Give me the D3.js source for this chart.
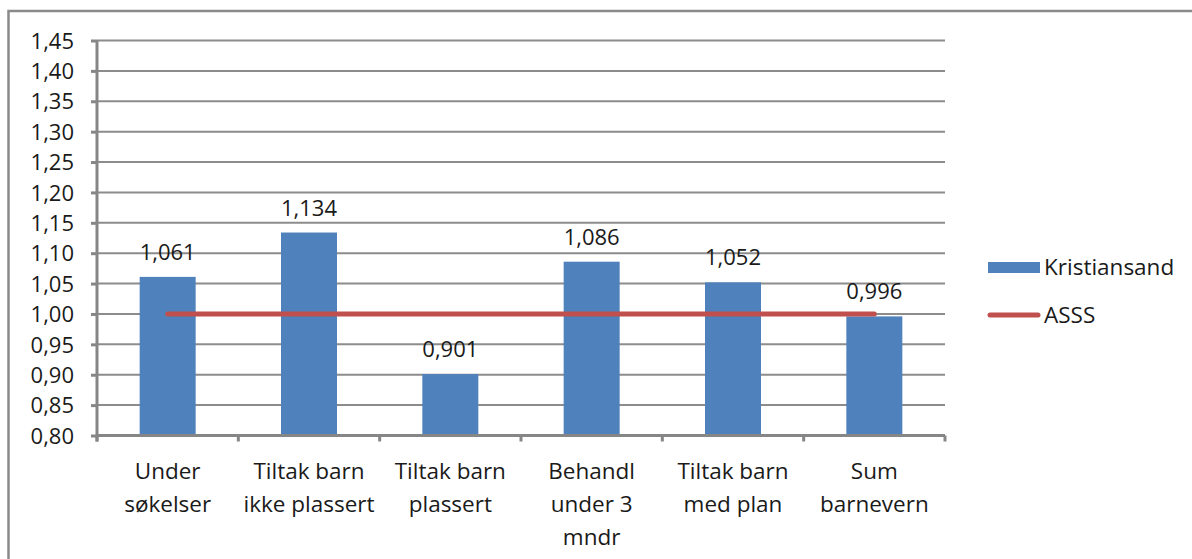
<!DOCTYPE html>
<html>
<head>
<meta charset="utf-8">
<script src="https://cdn.jsdelivr.net/npm/d3@7"></script>
<style>
  body { margin: 0; background: #fff; }
  text { font-family: "Open Sans", Lato, sans-serif; fill: #1a1a1a; }
</style>
</head>
<body>
<div id="chart"></div>
<script>
var categories = [
  ["Under", "søkelser"],
  ["Tiltak barn", "ikke plassert"],
  ["Tiltak barn", "plassert"],
  ["Behandl", "under 3", "mndr"],
  ["Tiltak barn", "med plan"],
  ["Sum", "barnevern"]
];
var kristiansand = [1.061, 1.134, 0.901, 1.086, 1.052, 0.996];
var asss = [1, 1, 1, 1, 1, 1];
var yTicks = [0.80, 0.85, 0.90, 0.95, 1.00, 1.05, 1.10, 1.15, 1.20, 1.25, 1.30, 1.35, 1.40, 1.45];
var seriesNames = ["Kristiansand", "ASSS"];

var W = 1192, H = 559;
var margin = { top: 40.5, left: 97, right: 1192 - 945, bottom: 559 - 435.5 };
var width = W - margin.left - margin.right;
var height = H - margin.top - margin.bottom;

var fmt = function (v, d) { return v.toFixed(d).replace(".", ","); };

var svg = d3.select("#chart").append("svg")
  .attr("width", W).attr("height", H);

// outer frame
svg.append("rect")
  .attr("x", 8.5).attr("y", 11)
  .attr("width", W + 10).attr("height", H + 10)
  .attr("fill", "none").attr("stroke", "#8a8a8a").attr("stroke-width", 2.5);

var g = svg.append("g")
  .attr("transform", "translate(" + margin.left + "," + margin.top + ")");

var xc = d3.scaleBand().domain(d3.range(categories.length)).range([0, width]);
var y = d3.scaleLinear().domain([0.8, 1.45]).range([height, 0]);

// gridlines
g.append("g").selectAll("line")
  .data(yTicks.slice(1))
  .join("line")
  .attr("x1", 0).attr("x2", width)
  .attr("y1", function (d) { return y(d); }).attr("y2", function (d) { return y(d); })
  .attr("stroke", "#8c8c8c").attr("stroke-width", 2);

// y axis
var yAxis = g.append("g")
  .call(d3.axisLeft(y).tickValues(yTicks).tickSize(6).tickPadding(17).tickFormat(function (d) { return fmt(d, 2); }));
yAxis.select(".domain").attr("stroke", "#868686").attr("stroke-width", 3).attr("d", "M0," + (height + 6) + "V" + 0);
yAxis.selectAll(".tick line").attr("stroke", "#868686").attr("stroke-width", 3);
yAxis.selectAll(".tick text").attr("font-size", "22px").attr("fill", "#1a1a1a").attr("dy", "0.35em");

// bars
g.append("g").selectAll("rect")
  .data(kristiansand)
  .join("rect")
  .attr("x", function (d, i) { return xc(i) + xc.bandwidth() / 2 - 28; })
  .attr("width", 56)
  .attr("y", function (d) { return y(d); })
  .attr("height", function (d) { return height - y(d); })
  .attr("fill", "#4f81bd");

// value labels
g.append("g").selectAll("text")
  .data(kristiansand)
  .join("text")
  .attr("x", function (d, i) { return xc(i) + xc.bandwidth() / 2; })
  .attr("y", function (d) { return y(d) - 17; })
  .attr("text-anchor", "middle")
  .attr("font-size", "22px")
  .text(function (d) { return fmt(d, 3); });

// x axis
var xAxis = g.append("g")
  .attr("transform", "translate(0," + height + ")")
  .call(d3.axisBottom(xc).tickSize(0).tickFormat(""));
xAxis.select(".domain").attr("stroke", "#868686").attr("stroke-width", 3).attr("d", "M0,0H" + width);
xAxis.selectAll(".tick").remove();
xAxis.selectAll(".sep")
  .data(d3.range(categories.length + 1))
  .join("line")
  .attr("x1", function (i) { return i * xc.step(); })
  .attr("x2", function (i) { return i * xc.step(); })
  .attr("y1", 0).attr("y2", 6)
  .attr("stroke", "#868686").attr("stroke-width", 3);

// category labels
var catText = g.append("g").selectAll("text")
  .data(categories)
  .join("text")
  .attr("x", function (d, i) { return xc(i) + xc.bandwidth() / 2; })
  .attr("y", height + 43)
  .attr("text-anchor", "middle")
  .attr("font-size", "22.5px");
catText.selectAll("tspan")
  .data(function (d) { return d; })
  .join("tspan")
  .attr("x", function () { return d3.select(this.parentNode).attr("x"); })
  .attr("dy", function (d, i) { return i === 0 ? 0 : 33; })
  .text(function (d) { return d; });

// ASSS line
var line = d3.line()
  .x(function (d, i) { return xc(i) + xc.bandwidth() / 2; })
  .y(function (d) { return y(d); });
g.append("path")
  .datum(asss)
  .attr("d", line)
  .attr("fill", "none")
  .attr("stroke", "#c0504d")
  .attr("stroke-width", 5)
  .attr("stroke-linecap", "round");

// legend
var legend = svg.append("g").attr("transform", "translate(988,0)");
legend.append("rect")
  .attr("x", 0).attr("y", 262).attr("width", 52).attr("height", 11)
  .attr("fill", "#4f81bd");
legend.append("text")
  .attr("x", 56).attr("y", 267).attr("dy", "0.35em")
  .attr("font-size", "22.5px").text(seriesNames[0]);
legend.append("line")
  .attr("x1", 2).attr("x2", 50).attr("y1", 315).attr("y2", 315)
  .attr("stroke", "#c0504d").attr("stroke-width", 5).attr("stroke-linecap", "round");
legend.append("text")
  .attr("x", 56).attr("y", 315).attr("dy", "0.35em")
  .attr("font-size", "22.5px").text(seriesNames[1]);
</script>
</body>
</html>
